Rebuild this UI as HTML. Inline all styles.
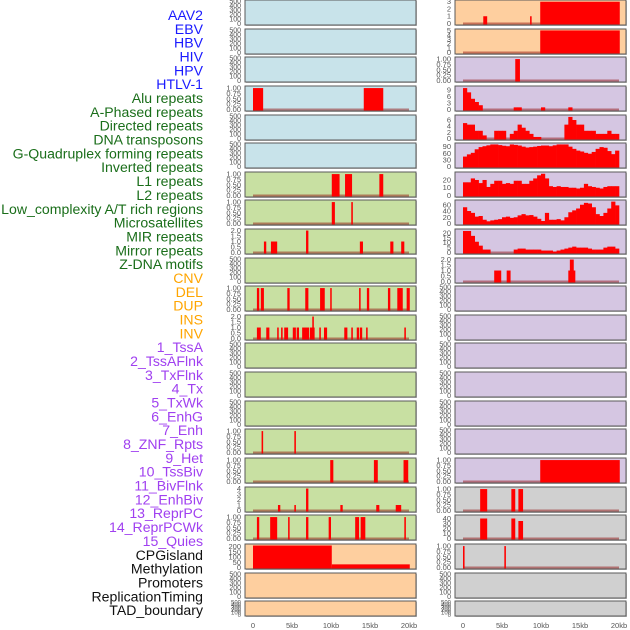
<!DOCTYPE html>
<html><head><meta charset="utf-8">
<style>
html,body{margin:0;padding:0;background:#fff;width:630px;height:630px;overflow:hidden}
svg{display:block}
</style></head>
<body>
<svg id="chart" width="630" height="630" xmlns="http://www.w3.org/2000/svg" font-family="Liberation Sans, sans-serif"></svg>
<script>
// ---------- data ----------
const trackLabels = ["AAV2","EBV","HBV","HIV","HPV","HTLV-1","Alu repeats","A-Phased repeats","Directed repeats","DNA transposons","G-Quadruplex forming repeats","Inverted repeats","L1 repeats","L2 repeats","Low_complexity A/T rich regions","Microsatellites","MIR repeats","Mirror repeats","Z-DNA motifs","CNV","DEL","DUP","INS","INV","1_TssA","2_TssAFlnk","3_TxFlnk","4_Tx","5_TxWk","6_EnhG","7_Enh","8_ZNF_Rpts","9_Het","10_TssBiv","11_BivFlnk","12_EnhBiv","13_ReprPC","14_ReprPCWk","15_Quies","CPGisland","Methylation","Promoters","ReplicationTiming","TAD_boundary"];
const labelColors = ["#1a1aff","#1a1aff","#1a1aff","#1a1aff","#1a1aff","#1a1aff",
 "#1a6e1a","#1a6e1a","#1a6e1a","#1a6e1a","#1a6e1a","#1a6e1a","#1a6e1a","#1a6e1a","#1a6e1a","#1a6e1a","#1a6e1a","#1a6e1a","#1a6e1a",
 "#ffa500","#ffa500","#ffa500","#ffa500","#ffa500",
 "#a040f0","#a040f0","#a040f0","#a040f0","#a040f0","#a040f0","#a040f0","#a040f0","#a040f0","#a040f0","#a040f0","#a040f0","#a040f0","#a040f0","#a040f0",
 "#111","#111","#111","#111","#111"];
const xTicks = [0,5,10,15,20];
const xTickLabels = ["0","5kb","10kb","15kb","20kb"];
const emptyTicks = [0,100,200,300,400,500];
const binTicks = [0,0.25,0.5,0.75,1];
const leftBg  = ["b","b","b","b","b","b","g","g","g","g","g","g","g","g","g","g","g","g","g","o","o","o"];
const rightBg = ["o","o","p","p","p","p","p","p","p","p","p","p","p","p","p","p","p","y","y","y","y","y"];
// sparse segments: [startKb, endKb, value]
const leftSegs = {
 3:[[0,1.3,1],[14.2,16.7,1]],
 6:[[10.1,11.1,1],[11.8,12.7,1],[16.2,16.7,1]],
 7:[[10.1,10.5,1],[12.6,12.8,1]],
 8:[[1.4,1.7,1],[2.3,3.1,1],[6.8,7.1,2],[13.7,14.1,1],[17.6,18,1],[19,19.4,1]],
 10:[[0.5,0.8,1],[1.0,1.4,1],[4.4,4.7,1],[6.7,7.1,1],[8.6,9.2,1],[9.9,10,1],[13.6,13.8,1],[14.6,14.9,1],[17.3,17.6,1],[18.5,19.2,1],[19.7,20.1,1]],
 11:[[0.5,1.0,1],[1.7,2.1,1],[3.1,3.3,1],[3.6,3.8,1],[4,4.5,1],[5.1,5.5,1],[5.6,5.9,1],[6.3,7.2,1],[7.3,7.9,1],[7.6,7.8,2],[8.5,8.7,1],[9.1,9.5,1],[11.7,12.1,1],[12.6,12.8,1],[13.3,13.6,1],[13.7,14,1],[14.5,14.7,1],[19.4,19.6,1]],
 15:[[1.1,1.3,1],[5.3,5.5,1]],
 16:[[9.9,10.3,1],[15.5,16,1],[19.3,19.9,1]],
 17:[[3.2,3.5,1],[5.3,5.5,1],[6.8,7.1,4],[11.2,11.5,1],[15.8,16.2,1],[18.3,19,1]],
 18:[[0.5,0.8,1],[2.2,3.1,1],[4.5,4.7,1],[6.8,7.1,1],[9.7,10,1],[13.1,13.6,1],[13.8,14.4,1],[19.4,19.6,1]],
 19:[[0,10.1,210],[10.1,20.1,30]]
};
const rightSegs = {
 0:[[2.6,3.1,1],[8.6,8.8,1],[9.9,20.1,3]],
 1:[[9.9,20.1,5]],
 2:[[6.7,7.3,1]],
 9:[[4,4.9,1],[5.6,6.1,1],[13.5,14.4,1],[13.7,14.2,2]],
 16:[[9.9,20.1,1]],
 17:[[2.2,3.1,1],[6.2,6.7,1],[7.1,7.7,1]],
 18:[[2.2,3.1,40],[6.2,6.7,40],[7.1,7.7,35]],
 19:[[0,0.2,1],[5.3,5.5,1]]
};
// dense series, 0.5kb bins (40 values)
const aluRight = [10,8,5,3.5,2,0,0,0,0,0,0,0,0,1,1,0,0,0,0,0,1,0,0,0,0,0,0,1,0,0,0,0,0,0,0,0,0,0,0,0];
const directedRight = [5,4.5,4.5,2.5,2.5,1,0,0,2.5,2.5,2.5,0,1.5,2.5,4.5,3.5,2.5,1.5,0.5,0.5,0,0,0,0,0,0,4.5,7,6,4.5,4.5,2.5,2.5,2.5,1.5,1.5,1.5,2.5,1.5,1.5];
const gquadRight = [45,55,62,78,88,92,96,100,100,97,94,92,100,98,95,90,86,88,90,93,95,95,92,96,100,100,100,90,80,72,68,62,58,66,80,88,85,70,56,72];
const l1Right = [17,17,22,20,16,20,11,15,19,19,15,16,15,19,19,15,15,19,22,26,28,22,12,11,12,11,11,10,10,9,10,15,12,11,10,9,11,12,12,12];
const lowcompRight = [52,40,34,22,24,12,7,10,12,14,20,22,18,20,26,30,26,27,22,15,8,34,12,12,14,10,20,36,42,48,60,66,64,52,30,24,34,48,70,58];
const mirRight = [22,22,17,11,7,3,3,0,0,0,0,0,0,3,4,4,3,3,3,3,2,2,2,1,2,3,4,5,6,5,5,5,4,3,3,3,5,6,6,4];
const rightDense = {3:aluRight,4:directedRight,5:gquadRight,6:l1Right,7:lowcompRight,8:mirRight};
const leftAxis = {3:[1.05,binTicks],6:[1.05,binTicks],7:[1.05,binTicks],8:[2.05,[0,0.5,1,1.5,2]],10:[1.05,binTicks],11:[2.05,[0,0.5,1,1.5,2]],15:[1.05,binTicks],16:[1.05,binTicks],17:[4.1,[0,1,2,3,4]],18:[1.05,binTicks],19:[215,[0,50,100,150,200]]};
const rightAxis = {0:[3.1,[0,1,2,3]],1:[5.1,[0,1,2,3,4,5]],2:[1.05,binTicks],3:[10.5,[0,3,6,9]],4:[7.3,[0,2,4,6]],5:[102,[0,30,60,90]],6:[29,[0,10,20]],7:[72,[0,20,40,60]],8:[23,[0,5,10,15,20]],9:[2.05,[0,0.5,1,1.5,2]],16:[1.05,binTicks],17:[1.05,binTicks],18:[45,[0,10,20,30,40]],19:[1.05,binTicks]};

// ---------- drawing ----------
const svg = document.getElementById('chart');
const NS = "http://www.w3.org/2000/svg";
const bgColors = {b:"#c8e3ea",g:"#c8e0a2",o:"#fecf9f",p:"#d5c6e2",y:"#d0d0d0"};
function mk(tag, attrs, parent){const e=document.createElementNS(NS,tag);for(const k in attrs)e.setAttribute(k,attrs[k]);(parent||svg).appendChild(e);return e;}
const rowTops = [0,29,57,86,115,143,172,200,229,258,286,315,343,372,401,429,458,487,515,544,573,601];
function rowH(i){return i===21?15:25;}
const cols = [{x0:245,w:171,side:"left"},{x0:455,w:171,side:"right"}];
function xScale(col,kb){return col.x0+8+kb*7.8;}
function fmt(v,ticks){const dec=ticks.some(t=>t%1!==0)?(ticks.some(t=>(t*10)%1!==0)?2:1):0;return v.toFixed(dec);}

trackLabels.forEach((lab,i)=>{
  const t = mk('text',{x:203,y:20+i*13.84,'text-anchor':'end','font-size':14.1,fill:labelColors[i]});
  t.textContent = lab;
  
  
});

rowTops.forEach((top,i)=>{
  const h=rowH(i);
  cols.forEach((col,ci)=>{
    const g = mk('g',{});
    
    
    const bg = (ci===0?leftBg:rightBg)[i];
    mk('rect',{x:col.x0+1,y:top+1,width:col.w,height:h,fill:"#999",opacity:0.6},g);
    mk('rect',{x:col.x0,y:top,width:col.w,height:h,fill:bgColors[bg],stroke:"#5a5a5a","stroke-width":1},g);
    const ax = (ci===0?leftAxis:rightAxis)[i] || [500,emptyTicks];
    const ymax=ax[0], ticks=ax[1];
    const y0=top+h-1.5, y1=top+1;
    const ys=v=>y0-(v/ymax)*(y0-y1);
    const isEmpty = ticks===emptyTicks;
    const fs = isEmpty ? (h<20?6:7) : 7.5;
    ticks.forEach(tv=>{
      const tt=mk('text',{x:col.x0-4,y:ys(tv)+2.5,'text-anchor':'end','font-size':fs,fill:"#555"},g);
      tt.textContent=fmt(tv,ticks);
      
      
    });
    const segs=(ci===0?leftSegs:rightSegs)[i];
    const dense=ci===1?rightDense[i]:null;
    if(segs||dense){
      mk('line',{x1:xScale(col,0),x2:xScale(col,20),y1:y0,y2:y0,stroke:"rgba(140,0,0,0.45)","stroke-width":2},g);
    }
    if(segs){
      segs.forEach(s=>{
        const r=mk('rect',{x:xScale(col,s[0]),y:ys(s[2]),width:Math.max(1.5,xScale(col,s[1])-xScale(col,s[0])),height:y0-ys(s[2])+1,fill:"#ff0000"},g);
        
        
      });
    }
    if(dense){
      dense.forEach((v,k)=>{
        if(v<=0)return;
        const r=mk('rect',{x:xScale(col,k*0.5),y:ys(v),width:xScale(col,0.5)-xScale(col,0)+0.3,height:y0-ys(v)+1,fill:"#ff0000"},g);
        
        
      });
    }
  });
});

cols.forEach(col=>{
  xTicks.forEach((kb,k)=>{
    const t=mk('text',{x:xScale(col,kb),y:628,'text-anchor':'middle','font-size':7.5,fill:"#555"});
    t.textContent=xTickLabels[k];
    
    
  });
});
</script>
</body></html>
